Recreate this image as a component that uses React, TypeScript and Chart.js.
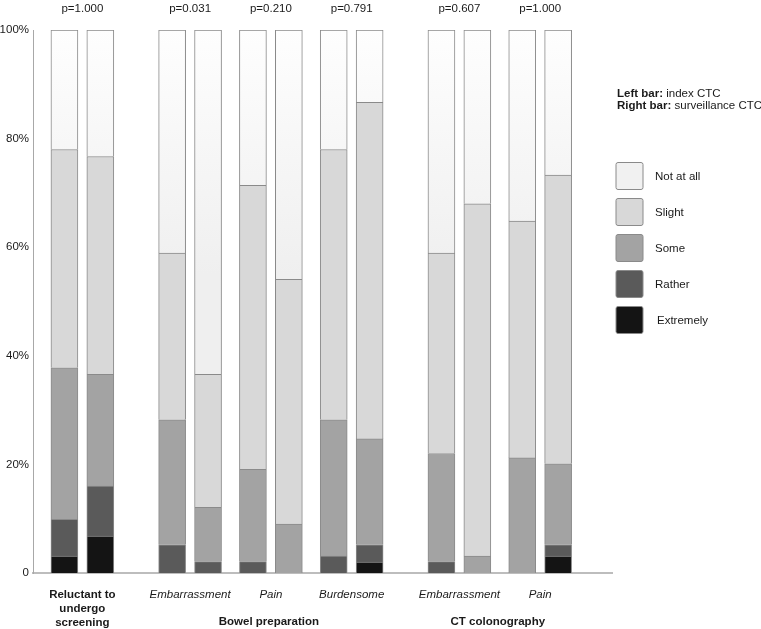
import React, { useEffect, useRef } from "react";
import { Chart, registerables } from "chart.js";

Chart.register(...registerables);

// ---- data ----
const sectionLabels = ["", "Bowel preparation", "CT colonography"];
const groupLabels = [
  "Reluctant to\nundergo\nscreening",
  "Embarrassment",
  "Pain",
  "Burdensome",
  "Embarrassment",
  "Pain",
];
const groupSection = [0, 1, 1, 1, 2, 2];
const pLabels = ["p=1.000", "p=0.031", "p=0.210", "p=0.791", "p=0.607", "p=1.000"];
const barInfoLeft = "index CTC";
const barInfoRight = "surveillance CTC";

const levelLabels = ["Not at all", "Slight", "Some", "Rather", "Extremely"];
// 12 bars: for each group, index CTC then surveillance CTC
const notAtAll = [22.0, 23.3, 41.1, 63.4, 28.6, 45.9, 22.0, 13.3, 41.1, 32.0, 35.2, 26.7];
const slight = [40.2, 40.1, 30.7, 24.5, 52.3, 45.1, 49.8, 62.0, 36.9, 64.9, 43.6, 53.2];
const some = [27.9, 20.6, 23.0, 10.0, 17.0, 9.0, 25.1, 19.5, 19.9, 3.1, 21.2, 14.9];
const rather = [6.8, 9.2, 5.2, 2.1, 2.1, 0, 3.1, 3.2, 2.1, 0, 0, 2.1];
const extremely = [3.1, 6.8, 0, 0, 0, 0, 0, 2.0, 0, 0, 0, 3.1];
const yTicks = [0, 20, 40, 60, 80, 100];

const FONT = "'Liberation Sans', Arial, Helvetica, sans-serif";
const levelColors = ["#f1f1f1", "#d8d8d8", "#a3a3a3", "#5a5a5a", "#141414"];

export default function App() {
  const ref = useRef<HTMLCanvasElement | null>(null);

  useEffect(() => {
    if (!ref.current) return;

    // slot layout: pair members 4 units apart, groups 5, sections 8
    const positions: number[] = [];
    let pos = 0;
    groupLabels.forEach((_, g) => {
      if (g > 0) pos += groupSection[g] !== groupSection[g - 1] ? 8 : 5;
      positions.push(pos, pos + 4);
      pos += 4;
    });

    const series = [notAtAll, slight, some, rather, extremely];
    const toPoints = (arr: number[]) =>
      arr.map((v, i) => ({ x: positions[i], y: v > 0 ? v : null }));

    const datasets = [4, 3, 2, 1, 0].map((li) => ({
      label: levelLabels[li],
      data: toPoints(series[li]),
      backgroundColor:
        li === 0
          ? (c: any) => {
              const ca = c.chart.chartArea;
              if (!ca) return levelColors[0];
              const g = c.chart.ctx.createLinearGradient(0, ca.top, 0, ca.top + (ca.bottom - ca.top) * 0.45);
              g.addColorStop(0, "#fefefe");
              g.addColorStop(1, "#efefef");
              return g;
            }
          : levelColors[li],
      borderColor: "#8a8a8a",
      borderWidth: 1,
      barThickness: 27,
    }));

    const textPlugin = {
      id: "annot",
      afterDraw(chart: any) {
        const ctx = chart.ctx;
        const xs = chart.scales.x;
        ctx.save();
        ctx.fillStyle = "#1a1a1a";
        ctx.textAlign = "center";
        ctx.textBaseline = "middle";
        // p labels and group labels
        groupLabels.forEach((lab, g) => {
          const cx = (xs.getPixelForValue(positions[2 * g]) + xs.getPixelForValue(positions[2 * g + 1])) / 2;
          ctx.font = `11.5px ${FONT}`;
          ctx.fillText(pLabels[g], cx, 9);
          const standalone = sectionLabels[groupSection[g]] === "";
          ctx.font = standalone ? `bold 11.5px ${FONT}` : `italic 11.5px ${FONT}`;
          lab.split("\n").forEach((line, k) => ctx.fillText(line, cx, 595 + k * 14));
        });
        // section labels
        sectionLabels.forEach((s, si) => {
          if (!s) return;
          const idx = groupSection.map((v, i) => (v === si ? i : -1)).filter((i) => i >= 0);
          const a = xs.getPixelForValue(positions[2 * idx[0]]);
          const b = xs.getPixelForValue(positions[2 * idx[idx.length - 1] + 1]);
          ctx.font = `bold 11.5px ${FONT}`;
          ctx.fillText(s, (a + b) / 2 - 2, 622);
        });
        // bar info
        ctx.textAlign = "left";
        const infos: [string, string, number][] = [
          ["Left bar:", barInfoLeft, 94],
          ["Right bar:", barInfoRight, 106],
        ];
        infos.forEach(([b, t, y]) => {
          ctx.font = `bold 11.5px ${FONT}`;
          ctx.fillText(b, 617, y);
          const w = ctx.measureText(b + " ").width;
          ctx.font = `11.5px ${FONT}`;
          ctx.fillText(t, 617 + w, y);
        });
        // legend
        levelLabels.forEach((lab, li) => {
          const top = 162.5 + li * 36;
          ctx.fillStyle = levelColors[li];
          ctx.strokeStyle = "#8a8a8a";
          ctx.lineWidth = 1;
          ctx.beginPath();
          if (ctx.roundRect) ctx.roundRect(616, top, 27, 27, 2);
          else ctx.rect(616, top, 27, 27);
          ctx.fill();
          ctx.stroke();
          ctx.fillStyle = "#1a1a1a";
          ctx.font = `11.5px ${FONT}`;
          ctx.fillText(lab, li === 4 ? 657 : 655, top + 14);
        });
        ctx.restore();
      },
    };

    const chart = new Chart(ref.current, {
      type: "bar",
      data: { datasets: datasets as any },
      options: {
        animation: false,
        responsive: true,
        maintainAspectRatio: false,
        layout: { padding: { top: 30, right: 149, left: 0, bottom: 0 } },
        plugins: { legend: { display: false }, tooltip: { enabled: false } },
        scales: {
          x: {
            type: "linear",
            stacked: true,
            offset: false,
            min: -3.5,
            max: 61,
            grid: { display: false, drawTicks: false },
            ticks: { display: false },
            border: { color: "#bdbdbd", width: 2 },
            afterFit: (s: any) => {
              s.height = 56;
            },
          },
          y: {
            stacked: true,
            min: 0,
            max: 100,
            afterBuildTicks: (s: any) => {
              s.ticks = yTicks.map((v) => ({ value: v }));
            },
            grid: { display: false, drawTicks: false },
            border: { color: "#a8a8a8", width: 1 },
            ticks: {
              padding: 4,
              color: "#1a1a1a",
              font: { family: FONT, size: 11.5 },
              callback: (v: any) => (v === 0 ? "0" : `${v}%`),
            },
            afterFit: (s: any) => {
              s.width = 33;
            },
          },
        },
      },
      plugins: [textPlugin],
    });
    return () => chart.destroy();
  }, []);

  return (
    <div style={{ position: "absolute", left: 0, top: 0, width: 761, height: 629, background: "#fff" }}>
      <canvas ref={ref} />
    </div>
  );
}
